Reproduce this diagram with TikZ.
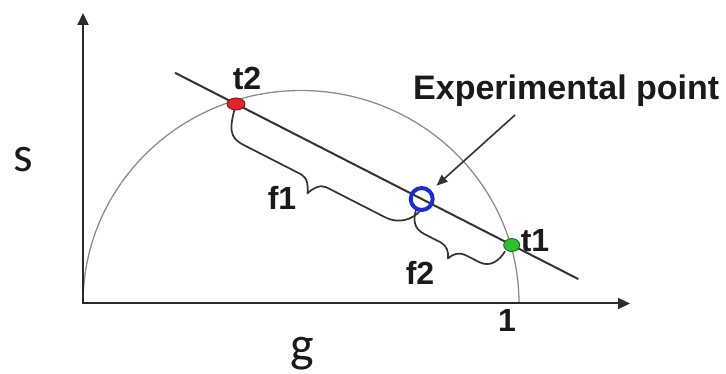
\documentclass[tikz,border=0pt]{standalone}
\usepackage{fontspec}
\setmainfont{Liberation Sans}
\newfontfamily\calfont{Carlito}
\usetikzlibrary{arrows.meta,shapes.geometric,calc}
\definecolor{axisk}{HTML}{2A2A2A}
\definecolor{linek}{HTML}{333333}
\definecolor{arcg}{HTML}{8C8C8C}
\definecolor{labk}{HTML}{1A1A1A}
\definecolor{redfill}{HTML}{E3222B}
\definecolor{redline}{HTML}{8A1A1A}
\definecolor{greenfill}{HTML}{2FC030}
\definecolor{greenline}{HTML}{1D6A1D}
\definecolor{ringblue}{HTML}{1C2CCF}
\begin{document}
\begin{tikzpicture}[x=1pt,y=-1pt,
  axis/.style={draw=axisk, line width=2pt, line join=miter,
    {Triangle[length=12pt,width=11pt]}-{Triangle[length=12pt,width=11pt]}},
  arcline/.style={draw=arcg, line width=1.3pt},
  mainline/.style={draw=linek, line width=2pt},
  bracepath/.style={draw=linek, line width=1.7pt, line join=round, line cap=round},
  dotred/.style={ellipse, draw=redline, fill=redfill, line width=0.9pt, minimum width=18pt, minimum height=12pt, inner sep=0pt},
  dotgreen/.style={ellipse, draw=greenline, fill=greenfill, line width=0.9pt, minimum width=16pt, minimum height=13pt, inner sep=0pt},
  ring/.style={circle, draw=ringblue, line width=4pt, minimum size=22pt, inner sep=0pt},
  ptr/.style={draw=linek, line width=1.6pt, -{Triangle[length=11pt,width=9pt]}, shorten >=7pt},
  lab/.style={font=\fontsize{32}{38}\selectfont\bfseries, inner sep=0pt, anchor=base, text=labk},
  axl/.style={font=\calfont\fontsize{50}{60}\selectfont, inner sep=0pt, anchor=base, text=labk}]
\useasboundingbox (0,0) rectangle (726,374);
% positions
\coordinate (c2) at (236,104);
\coordinate (c1) at (511.7,245);
\coordinate (ce) at (421.7,199);
\coordinate (O) at (83,303.5);
\coordinate (Ytip) at (83,13);
\coordinate (Xtip) at (630,303.5);
\coordinate (La) at ($(c2)!-0.221!(c1)$);
\coordinate (Lb) at ($(c2)!1.2416!(c1)$);
% semicircle
\draw[arcline] (O) arc[start angle=180, end angle=0, x radius=218pt, y radius=213pt];
% axes
\draw[axis] (Ytip) -- (O) -- (Xtip);
% main line
\draw[mainline] (La) -- (Lb);
% brace f1
\begin{scope}[shift={(c2)}, rotate=-27.08]
\draw[bracepath] (0,0) .. controls (5,25) and (9,33) .. (25,33) -- (90.3,33)
  .. controls (97.3,33) and (102.3,41) .. (104.3,47)
  .. controls (106.3,41) and (111.3,33) .. (118.3,33) -- (183.6,33)
  .. controls (200.6,33) and (209.6,22) .. (212.6,11.5);
\end{scope}
% brace f2
\begin{scope}[shift={(ce)}, rotate=-27.08]
\draw[bracepath] (0,13) .. controls (2,22) and (6,30) .. (18,30) -- (36.5,30)
  .. controls (43.5,30) and (48.5,35) .. (50.5,41)
  .. controls (52.5,35) and (57.5,30) .. (64.5,30) -- (80,30)
  .. controls (92,30) and (97,20) .. (98,9);
\end{scope}
% points
\node[dotred] (t2) at (c2) {};
\node[dotgreen] (t1) at (c1) {};
\node[ring] (ep) at (ce) {};
% pointer
\coordinate (as) at (515,115);
\draw[ptr] (as) -- (ep);
% labels
\node[lab] (lt2) at (247,90) {t2};
\node[lab] (lt1) at (535,252) {t1};
\node[lab] (lf1) at (282,210) {f1};
\node[lab] (lf2) at (420,285) {f2};
\node[lab] (lone) at (507,331.7) {1};
\node[lab, anchor=base west, font=\fontsize{34}{40}\selectfont\bfseries] (lexp) at (413,100) {Experimental point};
\node[axl] (ls) at (23.4,171.7) {s};
\node[axl] (lg) at (302,361.5) {g};
\end{tikzpicture}
\end{document}
